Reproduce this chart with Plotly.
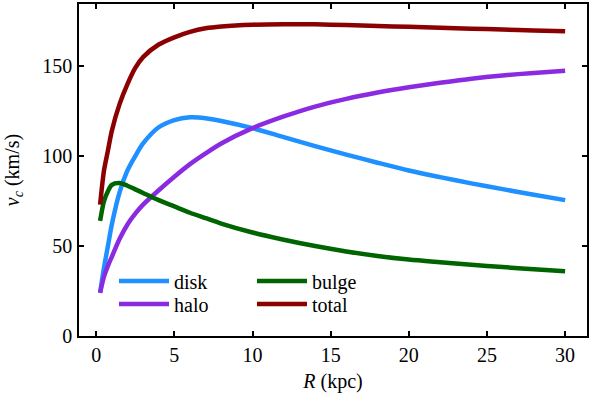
import plotly.graph_objects as go

# Radii (kpc)
R = [0.25, 0.5, 0.75, 1.0, 1.5, 2.0, 2.5, 3.0, 4.0, 5.0, 6.0, 7.0, 8.0, 10.0,
     12.0, 14.0, 16.0, 18.0, 20.0, 22.0, 24.0, 26.0, 28.0, 30.0]

disk = [24, 38, 50, 62, 80, 92, 100, 107, 116, 120, 121.5, 121, 119.5, 115.5,
        110.5, 105.5, 100.8, 96.3, 92, 88.3, 84.8, 81.6, 78.5, 75.5]
halo = [24, 33, 39, 44, 54, 62, 68, 73, 81, 88.5, 95.5, 101.5, 107, 115.5,
        122, 127.5, 131.8, 135.3, 138.2, 140.7, 143, 144.8, 146.2, 147.4]
bulge = [64, 75, 80.5, 84, 85, 83.5, 81.5, 79.5, 75.5, 72, 68.5, 65.5, 62.5, 57.5,
         53.5, 50, 47, 44.5, 42.5, 41, 39.6, 38.3, 37.1, 36]
total = [73, 92, 103, 114, 129, 140, 149, 155, 162, 166, 169, 171, 172, 173,
         173.3, 173.2, 172.8, 172.3, 171.8, 171.3, 170.8, 170.3, 169.8, 169.4]

x_ticks = [0, 5, 10, 15, 20, 25, 30]
y_ticks = [0, 50, 100, 150]

FONT = "Liberation Serif, DejaVu Serif, Times New Roman, Times, serif"
LW = 4.5

series = [
    ("disk", disk, "#1E90FF", "legend"),
    ("halo", halo, "#8A2BE2", "legend2"),
    ("bulge", bulge, "#006400", "legend3"),
    ("total", total, "#8B0000", "legend4"),
]

fig = go.Figure()
for name, vals, col, leg in series:
    fig.add_trace(go.Scatter(
        x=R, y=vals, mode="lines", name=name, legend=leg, showlegend=True,
        line=dict(color=col, width=LW, shape="spline", smoothing=0.8),
    ))

axis_common = dict(
    showline=True, linecolor="black", linewidth=1.5, mirror="ticks",
    ticks="inside", ticklen=5, tickwidth=1.5, tickcolor="black",
    showgrid=False, zeroline=False, automargin=False,
    tickfont=dict(family=FONT, size=20, color="black"),
)

fig.update_xaxes(range=[-1.1, 31.4], tickvals=x_ticks,
                 title=dict(text="<i>R</i> (kpc)", font=dict(family=FONT, size=20, color="black"), standoff=9),
                 **axis_common)
fig.update_yaxes(range=[0, 184.5], tickvals=y_ticks, ticklabelstandoff=1,
                 title=dict(text="<i>v<sub>c</sub></i> (km/s)", font=dict(family=FONT, size=20, color="black"), standoff=17),
                 **axis_common)

W, H = 589, 405
ml, mr, mt, mb = 79, 2, 4, 69
pw, ph = W - ml - mr, H - mt - mb

def leg(px, py):
    return dict(x=(px - ml) / pw, y=1 - (py - mt) / ph, xanchor="left", yanchor="middle",
                bgcolor="rgba(0,0,0,0)", font=dict(family=FONT, size=20, color="black"),
                itemwidth=50, borderwidth=0, visible=True)

fig.update_layout(
    width=W, height=H,
    margin=dict(l=ml, r=mr, t=mt, b=mb, autoexpand=False),
    paper_bgcolor="white", plot_bgcolor="white",
    font=dict(family=FONT, size=20, color="black"),
    showlegend=True,
    legend=leg(114, 281),
    legend2=leg(114, 304),
    legend3=leg(252, 281),
    legend4=leg(252, 304),
)

fig.write_html("out.html", config={"displayModeBar": False},
               post_script="document.body.style.margin='0';document.body.style.padding='0';")
